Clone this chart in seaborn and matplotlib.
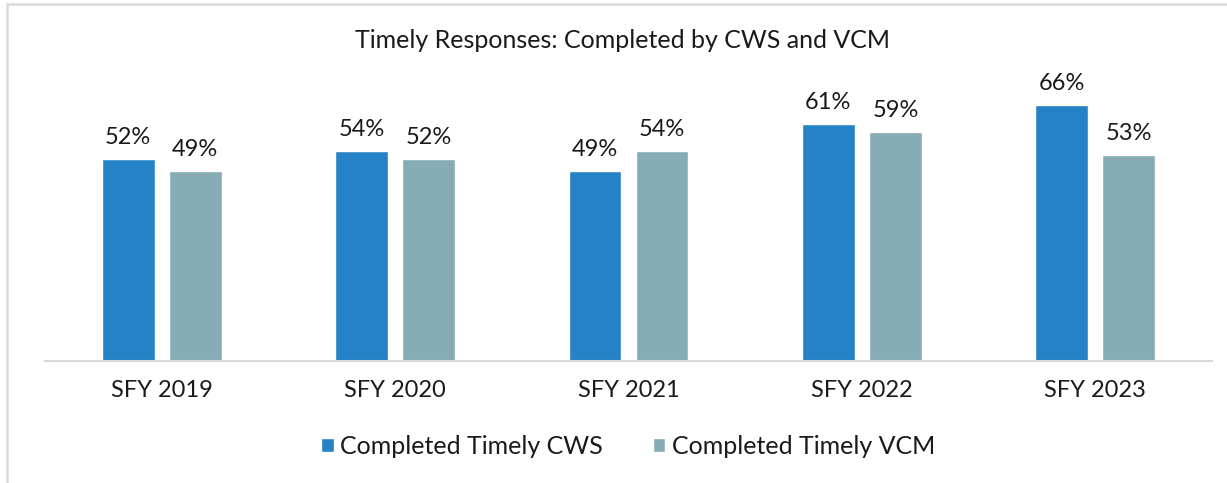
import numpy as np
import pandas as pd
import matplotlib.pyplot as plt
import seaborn as sns
from matplotlib.patches import Rectangle

# %% Data
years = ['SFY 2019', 'SFY 2020', 'SFY 2021', 'SFY 2022', 'SFY 2023']
cws = [52, 54, 49, 61, 66]
vcm = [49, 52, 54, 59, 53]
series_names = ['Completed Timely CWS', 'Completed Timely VCM']

df = pd.DataFrame({
    'Year': years * 2,
    'Value': cws + vcm,
    'Series': [series_names[0]] * len(years) + [series_names[1]] * len(years),
})

# %% Style
sns.set_theme(style='white')
plt.rcParams['font.family'] = ['Lato', 'DejaVu Sans']

W, H = 1227, 483
fig = plt.figure(figsize=(W / 100, H / 100), dpi=100)

# axes placed in pixel terms: baseline at y=361, x from 45 to 1212
base_px = 361
top_px = 60
ax = fig.add_axes([45 / W, (H - base_px) / H, 1167 / W, (base_px - top_px) / H])

sns.barplot(data=df, x='Year', y='Value', hue='Series', ax=ax,
            palette=['#2682C6', '#86ACB5'], width=0.574, gap=0.213,
            saturation=1, legend=True)

for c in ax.containers:
    ax.bar_label(c, fmt='%d%%', padding=8, fontsize=17, color='#1a1a1a')

ax.set_xlim(-0.5, 4.5)
ax.set_ylim(0, (base_px - top_px) / 3.88)
ax.set_xlabel('')
ax.set_ylabel('')
ax.set_yticks([])
ax.tick_params(axis='x', length=0, pad=14, labelsize=17, labelcolor='#1a1a1a')
for s in ['top', 'right', 'left']:
    ax.spines[s].set_visible(False)
ax.spines['bottom'].set_color('#D9D9D9')
ax.spines['bottom'].set_linewidth(1.5)

# legend at bottom
handles, labels = ax.get_legend_handles_labels()
ax.get_legend().remove()
fig.legend(handles, labels, loc='center', bbox_to_anchor=(628 / W, 1 - 446 / H),
           ncol=2, frameon=False, fontsize=18, handlelength=0.5, handleheight=0.5,
           handletextpad=0.25, columnspacing=2.0, labelcolor='#1a1a1a')

fig.text(623 / W, 1 - 48 / H, 'Timely Responses: Completed by CWS and VCM',
         ha='center', va='baseline', fontsize=18, color='#1a1a1a')

# chart border
fig.patches.append(Rectangle((7 / W, -0.1), 1.2, 1 - 4 / H + 0.1, transform=fig.transFigure,
                             fill=False, edgecolor='#D9D9D9', linewidth=1.8))

fig.savefig('out.png', dpi=100)
